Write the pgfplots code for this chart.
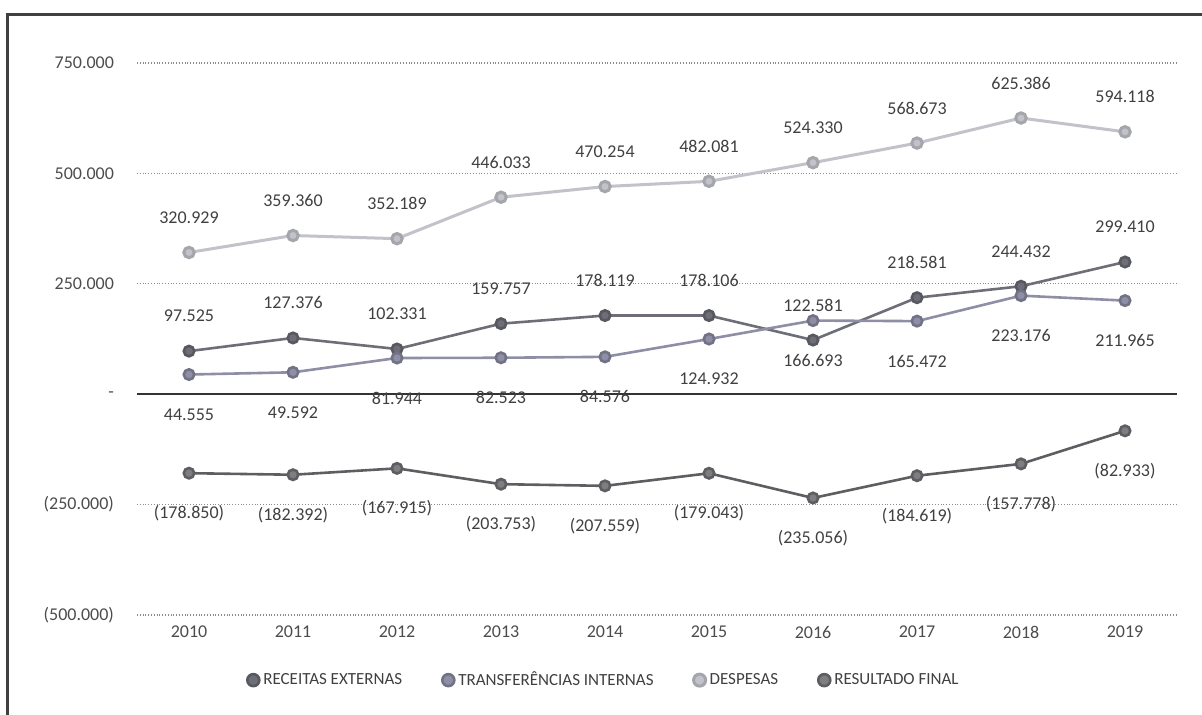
\documentclass[border=0pt]{standalone}
\usepackage{pgfplots}
\usepackage{pgfplotstable}
\usepackage{fontspec}
\setmainfont{Carlito}
\pgfplotsset{compat=1.18}

\definecolor{rec}{HTML}{6E6E78}
\definecolor{tra}{HTML}{8E8EA6}
\definecolor{des}{HTML}{C2C2CA}
\definecolor{res}{HTML}{5E5E62}
\definecolor{txt}{HTML}{404040}

\pgfplotstableread{
ano rec   lrec    tra    ltra   des    ldes    res     lres
2010 97525  97.525  44555  44.555  320929 320.929 -178850 (178.850)
2011 127376 127.376 49592  49.592  359360 359.360 -182392 (182.392)
2012 102331 102.331 81944  81.944  352189 352.189 -167915 (167.915)
2013 159757 159.757 82523  82.523  446033 446.033 -203753 (203.753)
2014 178119 178.119 84576  84.576  470254 470.254 -207559 (207.559)
2015 178106 178.106 124932 124.932 482081 482.081 -179043 (179.043)
2016 122581 122.581 166693 166.693 524330 524.330 -235056 (235.056)
2017 218581 218.581 165472 165.472 568673 568.673 -184619 (184.619)
2018 244432 244.432 223176 223.176 625386 625.386 -157778 (157.778)
2019 299410 299.410 211965 211.965 594118 594.118 -82933  (82.933)
}\dados

\begin{document}
\begin{tikzpicture}
\path[use as bounding box] (-68.5pt,-50pt) rectangle (532.5pt,307.5pt);
\draw[line width=1.5pt, black!75] (-64.5pt,-60pt) -- (-64.5pt,300pt) -- (545pt,300pt);
\begin{axis}[
    at={(0pt,0pt)}, anchor=south west,
    scale only axis,
    width=520pt, height=276pt,
    xmin=2009.5, xmax=2019.5,
    ymin=-500000, ymax=750000,
    xtick={2010,2011,2012,2013,2014,2015,2016,2017,2018,2019},
    xticklabels={2010,2011,2012,2013,2014,2015,2016,2017,2018,2019},
    ytick={-500000,-250000,250000,500000,750000},
    yticklabels={(500.000),(250.000),250.000,500.000,750.000},
    extra y ticks={0},
    extra y tick labels={-},
    extra y tick style={grid=major, major grid style={solid, black!80, line width=0.8pt}},
    scaled y ticks=false,
    ymajorgrids,
    major grid style={densely dotted, black!45, line width=0.6pt},
    axis line style={draw=none},
    tick style={draw=none},
    ticklabel style={font=\fontsize{9}{10}\selectfont, text=black!70},
    yticklabel style={xshift=-8pt},
    xticklabel style={yshift=-2pt},
    legend columns=4,
    legend style={at={(0.45,-0.118)}, anchor=center, draw=none,
        font=\fontsize{8.5}{10}\selectfont, text=txt,
        /tikz/every even column/.append style={column sep=18pt}},
    legend image code/.code={\draw[#1, mark size=3pt] plot[only marks] coordinates {(0.1cm,0cm)};},
    every axis plot/.append style={mark=*, mark size=2.6pt},
    nodes near coords,
    point meta=explicit symbolic,
    every node near coord/.append style={font=\fontsize{9}{10}\selectfont, text=txt, anchor=center},
]
\addplot[rec, line width=1.3pt, mark options={fill=rec, draw=rec!80!black},
    nodes near coords style={yshift=17.5pt}]
    table[x=ano, y=rec, meta=lrec] {\dados};
\addlegendentry{RECEITAS EXTERNAS}
\addplot[tra, line width=1.3pt, mark options={fill=tra, draw=tra!80!black},
    nodes near coords style={yshift=-20pt}]
    table[x=ano, y=tra, meta=ltra] {\dados};
\addlegendentry{TRANSFERÊNCIAS INTERNAS}
\addplot[des, line width=1.5pt, mark options={fill=des, draw=des!85!black},
    nodes near coords style={yshift=17.5pt}]
    table[x=ano, y=des, meta=ldes] {\dados};
\addlegendentry{DESPESAS}
\addplot[res, line width=1.3pt, mark options={fill=res!80, draw=res},
    nodes near coords style={yshift=-20pt}]
    table[x=ano, y=res, meta=lres] {\dados};
\addlegendentry{RESULTADO FINAL}
\end{axis}
\end{tikzpicture}
\end{document}
